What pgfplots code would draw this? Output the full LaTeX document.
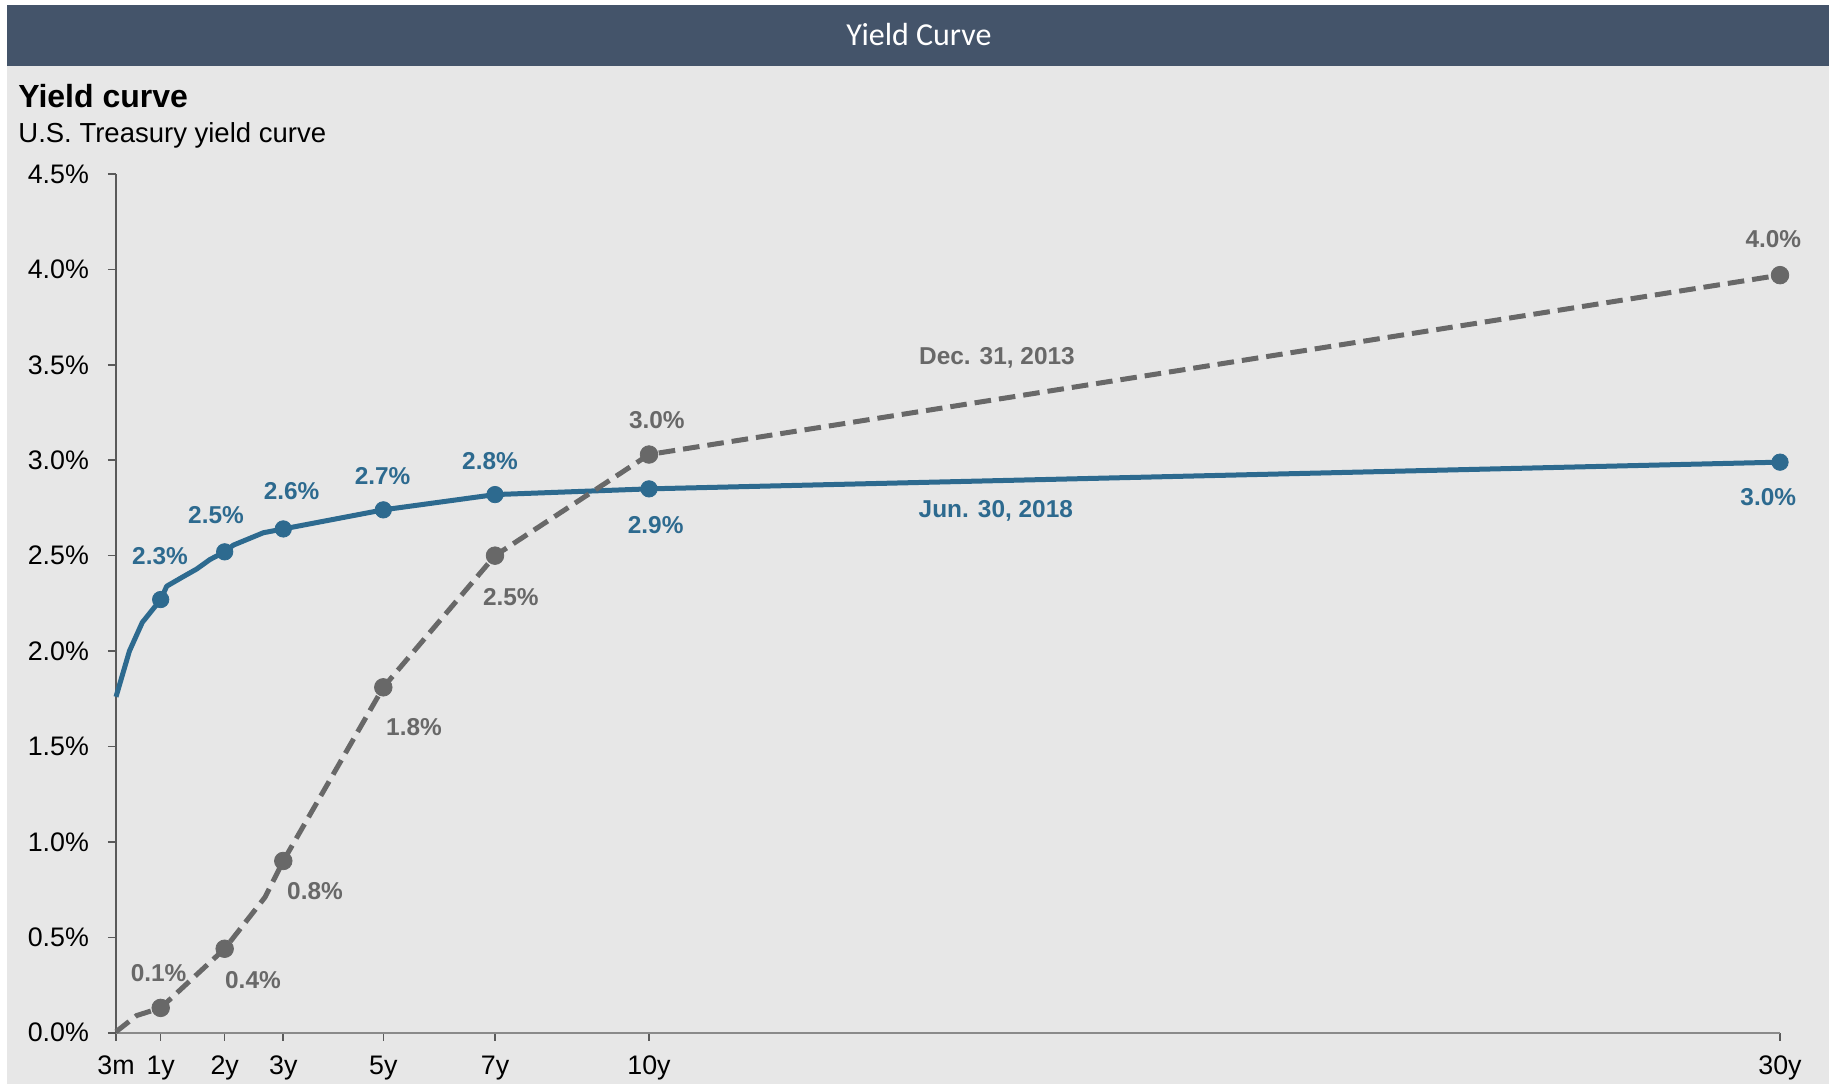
\documentclass[border=0pt]{standalone}
\usepackage{pgfplots}
\pgfplotsset{compat=1.18}
\usepackage{fontspec}
\setmainfont{Liberation Sans}
\newfontfamily\bannerfont{Carlito}
\definecolor{bg}{HTML}{E7E7E7}
\definecolor{banner}{HTML}{44546A}
\definecolor{cblue}{HTML}{2D6A8F}
\definecolor{cgray}{HTML}{686868}
\definecolor{yaxgray}{HTML}{5A5A5A}
\definecolor{xaxgray}{HTML}{8A8A8A}
\begin{document}
\begin{tikzpicture}
\begin{scope}[x=0.5pt,y=0.5pt]
\fill[white] (0,0) rectangle (1829,1084);
\fill[bg] (7,0) rectangle (1829,1018);
\fill[banner] (7,1018) rectangle (1829,1079);
\node[font=\bannerfont\fontsize{16}{19}\selectfont, text=white, anchor=base, inner sep=0] at (919,1038) {Yield Curve};
\node[font=\bfseries\fontsize{16}{19}\selectfont, anchor=base west, inner sep=0] at (18,976.3) {Yield curve};
\node[font=\fontsize{13.75}{16}\selectfont, anchor=base west, inner sep=0] at (18,941.3) {U.S. Treasury yield curve};
\end{scope}
\useasboundingbox (0,0) rectangle (914.5pt,542pt);
\begin{axis}[
  scale only axis, width=832pt, height=429.35pt,
  at={(58pt,25.65pt)}, anchor=south west,
  xmin=0.25, xmax=30, ymin=0, ymax=4.5,
  axis x line*=bottom, axis y line*=left,
  axis line style={-},
  x axis line style={color=xaxgray, line width=1pt},
  y axis line style={color=yaxgray, line width=1pt},
  xtick={0.25,1.049,2.193,3.241,5.029,7.026,9.78,30},
  xticklabels={3m,1y,2y,3y,5y,7y,10y,30y},
  ytick={0,0.5,1,1.5,2,2.5,3,3.5,4,4.5},
  yticklabels={0.0\%,0.5\%,1.0\%,1.5\%,2.0\%,2.5\%,3.0\%,3.5\%,4.0\%,4.5\%},
  tick align=outside, major tick length=4pt,
  tick style={color=yaxgray, line width=0.8pt},
  ticklabel style={font=\fontsize{13.4}{15}\selectfont},
  yticklabel style={xshift=-6pt},
  xticklabel style={yshift=-4pt},
  clip=false,
]
% Jun. 30, 2018
\addplot[cblue, line width=2.5pt, no marks, line join=round] coordinates {
 (0.25,1.76) (0.49,2.00) (0.72,2.15) (1.049,2.27) (1.157,2.34) (1.452,2.39)
 (1.693,2.43) (1.931,2.48) (2.193,2.52) (2.347,2.555) (2.884,2.62) (3.241,2.64)
 (5.029,2.74) (7.026,2.82) (9.78,2.85) (30,2.99)};
\addplot[cblue, only marks, mark=*, mark size=4.1pt] coordinates {
 (1.049,2.27) (2.193,2.52) (3.241,2.64) (5.029,2.74) (7.026,2.82) (9.78,2.85) (30,2.99)};
% Dec. 31, 2013
\addplot[cgray, line width=2.5pt, dash pattern=on 8.3pt off 4pt, no marks] coordinates {
 (0.25,0.005) (0.62,0.09) (1.049,0.13) (2.193,0.44) (2.914,0.71) (3.241,0.90)
 (5.029,1.81) (7.026,2.50) (9.78,3.03) (30,3.97)};
\addplot[cgray, only marks, mark=*, mark size=4.4pt] coordinates {
 (1.049,0.13) (2.193,0.44) (3.241,0.90) (5.029,1.81) (7.026,2.50) (9.78,3.03) (30,3.97)};
% labels
\begin{scope}[every node/.style={font=\bfseries\fontsize{12.2}{14}\selectfont, inner sep=0}]
\node[text=cblue] at (axis cs:1.037,2.498) {2.3\%};
\node[text=cblue] at (axis cs:2.038,2.71) {2.5\%};
\node[text=cblue] at (axis cs:3.39,2.839) {2.6\%};
\node[text=cblue] at (axis cs:5.017,2.917) {2.7\%};
\node[text=cblue] at (axis cs:6.937,2.997) {2.8\%};
\node[text=cblue] at (axis cs:9.898,2.661) {2.9\%};
\node[text=cblue] at (axis cs:29.79,2.808) {3.0\%};
\node[text=cblue] at (axis cs:15.98,2.734) {Jun. 30, 2018};
\node[text=cgray] at (axis cs:29.88,4.159) {4.0\%};
\node[text=cgray] at (axis cs:9.92,3.211) {3.0\%};
\node[text=cgray] at (axis cs:7.31,2.283) {2.5\%};
\node[text=cgray] at (axis cs:5.578,1.602) {1.8\%};
\node[text=cgray] at (axis cs:3.808,0.743) {0.8\%};
\node[text=cgray] at (axis cs:2.699,0.276) {0.4\%};
\node[text=cgray] at (axis cs:1.012,0.313) {0.1\%};
\node[text=cgray] at (axis cs:16.0,3.536) {Dec. 31, 2013};
\end{scope}
\end{axis}
\end{tikzpicture}
\end{document}
